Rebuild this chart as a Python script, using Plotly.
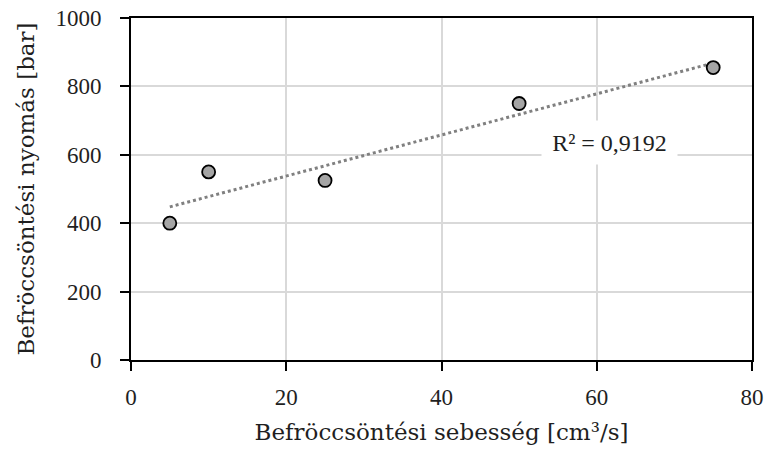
import numpy as np
import plotly.graph_objects as go

# Injection speed [cm³/s] vs injection pressure [bar]
speed = [5, 10, 25, 50, 75]
pressure = [400, 550, 525, 750, 855]
x_ticks = [0, 20, 40, 60, 80]
y_ticks = [0, 200, 400, 600, 800, 1000]
r2_label = "R² = 0,9192"

TITLE_FONT = "DejaVu Serif"
NUM_FONT = "Liberation Serif"
TEXT_COLOR = "#1f1f1f"

# Linear trendline
slope, intercept = np.polyfit(speed, pressure, 1)
trend_x = [min(speed), max(speed)]
trend_y = [slope * v + intercept for v in trend_x]

fig = go.Figure()
fig.add_trace(go.Scatter(
    x=trend_x, y=trend_y, mode="lines",
    line=dict(color="#808080", width=3, dash="dot"),
    hoverinfo="skip", showlegend=False,
))
fig.add_trace(go.Scatter(
    x=speed, y=pressure, mode="markers",
    marker=dict(size=13, color="#a5a5a5", line=dict(color="#000000", width=1.8)),
    showlegend=False,
))

fig.add_annotation(
    x=61.6, y=637, xref="x", yref="y", text=r2_label, showarrow=False,
    font=dict(family=NUM_FONT, size=24, color=TEXT_COLOR),
    bgcolor="#ffffff", borderpad=9, width=117, height=25,
)

axis_common = dict(
    showline=True, linecolor="#000000", linewidth=1.6, mirror=True,
    ticks="outside", ticklen=9, tickwidth=1.6, tickcolor="#000000",
    showgrid=True, gridcolor="#d9d9d9", gridwidth=1.6, zeroline=False,
    tickfont=dict(family=NUM_FONT, size=23, color=TEXT_COLOR),
    automargin=False,
)

fig.update_layout(
    width=765, height=453,
    margin=dict(l=131, r=13, t=18, b=93),
    paper_bgcolor="#ffffff", plot_bgcolor="#ffffff",
    xaxis=dict(
        range=[0, 80], tickvals=x_ticks, ticklabelstandoff=7,
        title=dict(text="Befröccsöntési sebesség [cm³/s]", standoff=14,
                   font=dict(family=TITLE_FONT, size=23, color=TEXT_COLOR)),
        **axis_common,
    ),
    yaxis=dict(
        range=[0, 1000], tickvals=y_ticks, ticklabelstandoff=14,
        title=dict(text="Befröccsöntési nyomás [bar]", standoff=15,
                   font=dict(family=TITLE_FONT, size=23, color=TEXT_COLOR)),
        **axis_common,
    ),
)

fig.write_html("out.html")
